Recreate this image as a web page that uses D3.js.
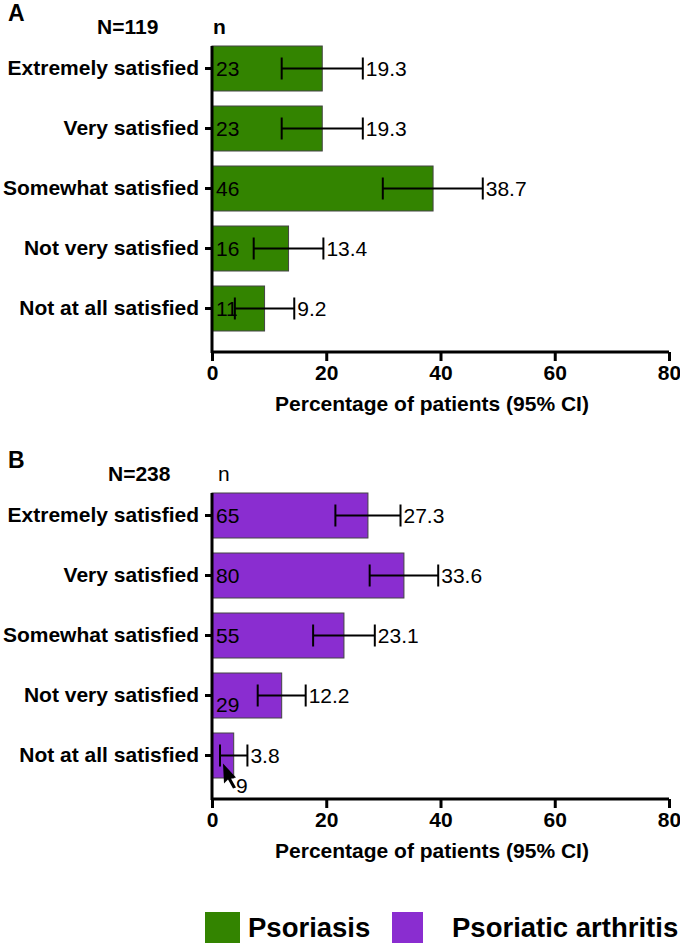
<!DOCTYPE html>
<html>
<head>
<meta charset="utf-8">
<script src="https://d3js.org/d3.v7.min.js"></script>
<style>
  html, body { margin: 0; background: #fff; }
  text { font-family: "Liberation Sans", Arial, sans-serif; fill: #000; }
</style>
</head>
<body>
<script>
var width = 680, height = 945;

var categories = ["Extremely satisfied", "Very satisfied", "Somewhat satisfied", "Not very satisfied", "Not at all satisfied"];
var xTicks = [0, 20, 40, 60, 80];

// panel A - psoriasis
var psoN = [23, 23, 46, 16, 11];
var psoPct = [19.3, 19.3, 38.7, 13.4, 9.2];
var psoLow = [12.2, 12.2, 29.9, 7.3, 4.0];
var psoHigh = [26.4, 26.4, 47.4, 19.5, 14.4];

// panel B - psoriatic arthritis
var psaN = [65, 80, 55, 29, 9];
var psaPct = [27.3, 33.6, 23.1, 12.2, 3.8];
var psaLow = [21.6, 27.6, 17.7, 8.0, 1.4];
var psaHigh = [33.0, 39.6, 28.5, 16.4, 6.2];

var svg = d3.select('body').append('svg')
  .attr('width', width)
  .attr('height', height);

var x = d3.scaleLinear().domain([0, 80]).range([212, 669]);
var fs = '21px';

function panel(top, letter, total, nBold, counts, pct, low, high, color) {
  var g = svg.append('g');
  var y = d3.scaleBand().domain(categories)
    .range([top + 40, top + 337]).paddingInner(0.25).paddingOuter(0.1);
  var axisY = top + 352;

  var rows = categories.map(function (c, i) {
    return { cat: c, n: counts[i], p: pct[i], lo: low[i], hi: high[i], i: i };
  });

  g.selectAll('rect').data(rows).enter().append('rect')
    .attr('x', x(0))
    .attr('y', d => y(d.cat))
    .attr('width', d => x(d.p) - x(0))
    .attr('height', y.bandwidth())
    .attr('fill', color)
    .attr('stroke', '#444')
    .attr('stroke-width', 1);

  // error bars
  var eb = g.selectAll('g.eb').data(rows).enter().append('g');
  eb.append('line')
    .attr('x1', d => x(d.lo)).attr('x2', d => x(d.hi))
    .attr('y1', d => y(d.cat) + y.bandwidth() / 2)
    .attr('y2', d => y(d.cat) + y.bandwidth() / 2)
    .attr('stroke', '#000').attr('stroke-width', 2);
  eb.selectAll('line.cap').data(d => [d.lo, d.hi].map(v => ({ v: v, c: d.cat })))
    .enter().append('line')
    .attr('x1', d => x(d.v)).attr('x2', d => x(d.v))
    .attr('y1', d => y(d.c) + y.bandwidth() / 2 - 11)
    .attr('y2', d => y(d.c) + y.bandwidth() / 2 + 11)
    .attr('stroke', '#000').attr('stroke-width', 2);

  // percentage labels
  g.selectAll('text.pct').data(rows).enter().append('text')
    .attr('x', d => x(d.hi) + 3)
    .attr('y', d => y(d.cat) + y.bandwidth() / 2)
    .attr('dy', '0.36em')
    .style('font-size', fs)
    .text(d => d.p.toFixed(1));

  // count labels
  g.selectAll('text.n').data(rows).enter().append('text')
    .attr('x', d => (d.n === 9 ? 236 : x(0) + 4))
    .attr('y', function (d) {
      var c = y(d.cat) + y.bandwidth() / 2;
      if (d.n === 9) return c + 30;
      if (d.n === 29) return c + 9;
      return c;
    })
    .attr('dy', '0.36em')
    .style('font-size', fs)
    .text(d => d.n);

  // axes
  var xAxis = g.append('g').attr('transform', 'translate(0,' + axisY + ')')
    .call(d3.axisBottom(x).tickValues(xTicks).tickSize(9).tickPadding(4));
  xAxis.select('.domain').attr('stroke-width', 3).attr('d', 'M' + x(0) + ',0H' + x(80));
  xAxis.selectAll('.tick line').attr('stroke-width', 3);
  xAxis.selectAll('.tick text')
    .style('font-size', fs).style('font-weight', 'bold')
    .style('font-family', '"Liberation Sans", Arial, sans-serif');

  var yAxis = g.append('g').attr('transform', 'translate(' + x(0) + ',0)')
    .call(d3.axisLeft(y).tickSize(7).tickPadding(6));
  yAxis.select('.domain').attr('stroke-width', 3)
    .attr('d', 'M0,' + (top + 46) + 'V' + (axisY + 1));
  yAxis.selectAll('.tick line').attr('stroke-width', 3);
  yAxis.selectAll('.tick text')
    .style('font-size', fs).style('font-weight', 'bold')
    .style('font-family', '"Liberation Sans", Arial, sans-serif');

  g.append('text').attr('x', 432).attr('y', axisY + 59)
    .attr('text-anchor', 'middle')
    .style('font-size', fs).style('font-weight', 'bold')
    .text('Percentage of patients (95% CI)');

  g.append('text').attr('x', 8).attr('y', top + 21)
    .style('font-size', '23px').style('font-weight', 'bold')
    .text(letter);
  g.append('text').attr('x', nBold ? 97 : 108).attr('y', top + 34)
    .style('font-size', fs).style('font-weight', 'bold')
    .text('N=' + total);
  g.append('text').attr('x', nBold ? 213 : 218).attr('y', top + 34)
    .style('font-size', fs).style('font-weight', nBold ? 'bold' : 'normal')
    .text('n');
  return y;
}

panel(0, 'A', 119, true, psoN, psoPct, psoLow, psoHigh, '#338400');
var yB = panel(447, 'B', 238, false, psaN, psaPct, psaLow, psaHigh, '#8a2dd0');

// arrow pointing at the tiny bar
var c = yB(categories[4]) + yB.bandwidth() / 2;
svg.append('path')
  .attr('d', 'M' + (x(0) + 11) + ',' + (c + 8) + 'l13,14l-5,1l5,9l-3,1l-5,-9l-4,4z')
  .attr('fill', '#000');

// legend
var legend = [{ label: 'Psoriasis', color: '#338400', x: 205, w: 35, tx: 248 },
              { label: 'Psoriatic arthritis', color: '#8a2dd0', x: 392, w: 31, tx: 452 }];
var lg = svg.append('g');
lg.selectAll('rect').data(legend).enter().append('rect')
  .attr('x', d => d.x).attr('y', 912).attr('width', d => d.w).attr('height', 31)
  .attr('fill', d => d.color);
lg.selectAll('text').data(legend).enter().append('text')
  .attr('x', d => d.tx).attr('y', 937)
  .style('font-size', '27.5px').style('font-weight', 'bold')
  .text(d => d.label);
</script>
</body>
</html>
